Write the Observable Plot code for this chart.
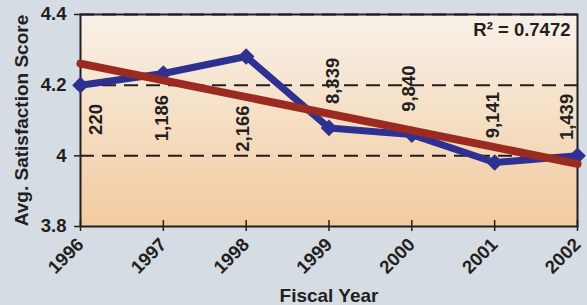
<!DOCTYPE html>
<html><head><meta charset="utf-8">
<script src="https://cdn.jsdelivr.net/npm/d3@7"></script>
<script src="https://cdn.jsdelivr.net/npm/@observablehq/plot@0.6"></script>
<style>
html,body{margin:0;padding:0;background:#d5dce3;}
svg{display:block}
</style></head><body><div id="chart"></div>
<script>
const years = [1996, 1997, 1998, 1999, 2000, 2001, 2002];
const scores = [4.20, 4.233, 4.281, 4.079, 4.06, 3.981, 4.00];
const respondentCounts = ["220", "1,186", "2,166", "8,339", "9,840", "9,141", "1,439"];
const countLabelYear = [1996.19, 1996.99, 1997.96, 1999.05, 1999.97, 2000.98, 2001.87];
const countLabelScore = [4.103, 4.107, 4.077, 4.212, 4.19, 4.115, 4.11];
const yTicks = [3.8, 4.0, 4.2, 4.4];
const gridValues = [4.0, 4.2, 4.4];
const rSquaredLabel = "R\u00B2 = 0.7472";
const xTitle = "Fiscal Year";
const yTitle = "Avg. Satisfaction Score";

const series = years.map((year, i) => ({year, score: scores[i]}));
const countLabels = respondentCounts.map((text, i) => ({text, year: countLabelYear[i], score: countLabelScore[i]}));

const ink = "#231f20";
const font = "'Liberation Sans', Arial, sans-serif";
const yearFormat = d => String(d);
const scoreFormat = d => String(+d.toFixed(1));

const chart = Plot.plot({
  width: 587, height: 305,
  marginLeft: 80, marginRight: 10, marginTop: 14, marginBottom: 79,
  style: {background: "#d5dce3", fontFamily: font, fontWeight: "bold", color: ink, overflow: "visible"},
  x: {domain: [1996, 2002], label: null},
  y: {domain: [3.8, 4.4], label: null},
  marks: [
    Plot.frame({fill: "url(#plotBg)", stroke: null}),
    Plot.ruleY(gridValues, {stroke: ink, strokeWidth: 2, strokeDasharray: "14,8"}),
    Plot.frame({stroke: ink, strokeWidth: 2}),
    Plot.axisY({ticks: yTicks, tickFormat: scoreFormat, tickSize: 6, tickPadding: 8, fontSize: 18.5, stroke: ink, strokeWidth: 1.5, fill: ink, label: null}),
    Plot.axisX({ticks: years, tickFormat: yearFormat, tickSize: 5, tickPadding: 10, tickRotate: -45, fontSize: 18.5, stroke: ink, strokeWidth: 1.5, fill: ink, label: null}),
    Plot.axisX({ticks: years, tickSize: -6, tickFormat: () => "", stroke: ink, strokeWidth: 1.5, label: null}),
    Plot.line(series, {x: "year", y: "score", stroke: "#2e3192", strokeWidth: 7, strokeLinejoin: "miter"}),
    Plot.dot(series, {x: "year", y: "score", symbol: "diamond2", r: 7.5, fill: "#2e3192", stroke: null}),
    Plot.linearRegressionY(series, {x: "year", y: "score", stroke: "#9b2b21", strokeWidth: 8, ci: 0}),
    Plot.text(countLabels, {x: "year", y: "score", text: "text", rotate: -90, fontSize: 18.5, fill: ink, textAnchor: "middle", lineAnchor: "middle"}),
    Plot.text([rSquaredLabel], {frameAnchor: "top-right", dx: -7, dy: 16, textAnchor: "end", lineAnchor: "middle", fontSize: 18.5, fill: ink}),
    Plot.text([yTitle], {frameAnchor: "left", dx: -59, rotate: -90, textAnchor: "middle", lineAnchor: "middle", fontSize: 19, fill: ink}),
    Plot.text([xTitle], {frameAnchor: "bottom", dy: 69, textAnchor: "middle", lineAnchor: "middle", fontSize: 19, fill: ink})
  ]
});

const svg = d3.select(chart);
const grad = svg.insert("defs", ":first-child").append("linearGradient")
  .attr("id", "plotBg").attr("x1", 0).attr("y1", 0).attr("x2", 0).attr("y2", 1);
grad.append("stop").attr("offset", "0%").attr("stop-color", "#f8f1e8");
grad.append("stop").attr("offset", "100%").attr("stop-color", "#f2cb9f");

document.getElementById("chart").appendChild(chart);
</script>
</body></html>
